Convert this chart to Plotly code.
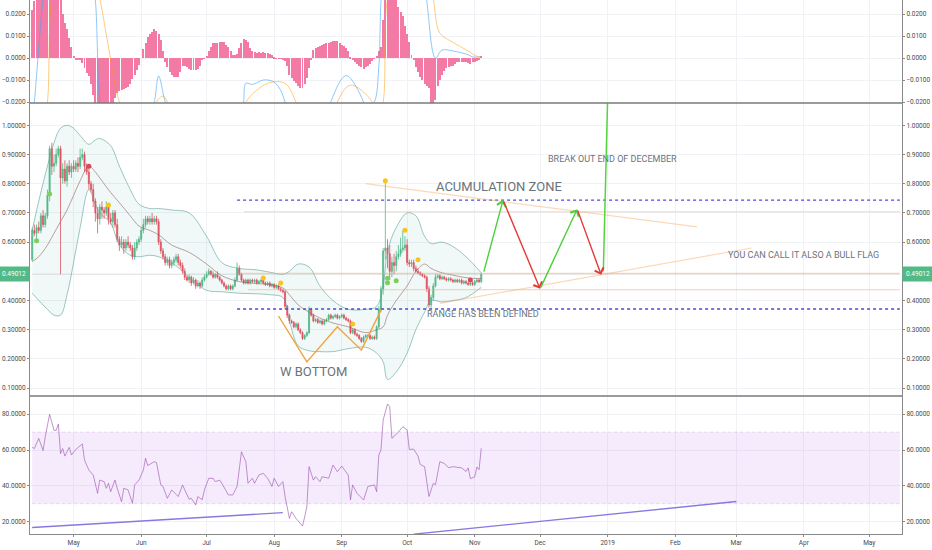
import pandas as pd
import plotly.graph_objects as go

# ---------------- data ----------------
start_date = "2018-04-12"
first_open = 0.54
closes = [
    0.64, 0.63, 0.65, 0.64, 0.69, 0.66, 0.69, 0.76, 0.92, 0.86,
    0.87, 0.90, 0.92, 0.82, 0.85, 0.81, 0.86, 0.84, 0.86, 0.85,
    0.87, 0.86, 0.89, 0.90, 0.86, 0.84, 0.80, 0.78, 0.74, 0.70,
    0.68, 0.72, 0.71, 0.70, 0.72, 0.68, 0.67, 0.70, 0.66, 0.61,
    0.59, 0.60, 0.58, 0.60, 0.59, 0.58, 0.55, 0.58, 0.60, 0.61,
    0.64, 0.66, 0.68, 0.67, 0.68, 0.67, 0.68, 0.67, 0.60, 0.57,
    0.55, 0.53, 0.54, 0.52, 0.53, 0.54, 0.55, 0.53, 0.52, 0.50,
    0.48, 0.47, 0.48, 0.46, 0.47, 0.45, 0.46, 0.45, 0.47, 0.48,
    0.49, 0.50, 0.49, 0.48, 0.49, 0.48, 0.47, 0.46, 0.45, 0.44,
    0.45, 0.44, 0.45, 0.47, 0.51, 0.49, 0.47, 0.46, 0.47, 0.46,
    0.47, 0.465, 0.47, 0.46, 0.465, 0.47, 0.46, 0.455, 0.46, 0.45,
    0.455, 0.445, 0.45, 0.44, 0.435, 0.43, 0.38, 0.35, 0.33, 0.325,
    0.31, 0.32, 0.30, 0.29, 0.27, 0.28, 0.29, 0.37, 0.35, 0.33,
    0.335, 0.325, 0.33, 0.32, 0.33, 0.335, 0.35, 0.34, 0.345, 0.35,
    0.34, 0.345, 0.35, 0.34, 0.335, 0.33, 0.29, 0.30, 0.285, 0.28,
    0.27, 0.26, 0.275, 0.28, 0.28, 0.27, 0.275, 0.27, 0.31, 0.37,
    0.44, 0.57, 0.58, 0.56, 0.50, 0.53, 0.52, 0.55, 0.56, 0.575,
    0.58, 0.59, 0.53, 0.525, 0.53, 0.51, 0.50, 0.495, 0.49, 0.485,
    0.48, 0.44, 0.385, 0.41, 0.45, 0.48, 0.485, 0.475, 0.48, 0.475,
    0.47, 0.475, 0.47, 0.465, 0.47, 0.465, 0.47, 0.46, 0.465, 0.46,
    0.455, 0.46, 0.455, 0.465, 0.47, 0.465, 0.49012,
]
hi_wick = [
    0.01, 0.02, 0.01, 0.02, 0.01, 0.02, 0.01, 0.02, 0.01, 0.02,
    0.03, 0.02, 0.01, 0.01, 0.02, 0.03, 0.01, 0.02, 0.01, 0.02,
    0.01, 0.02, 0.03, 0.02, 0.01, 0.01, 0.02, 0.01, 0.02, 0.01,
    0.02, 0.01, 0.02, 0.01, 0.02, 0.01, 0.02, 0.01, 0.01, 0.02,
    0.01, 0.02, 0.01, 0.01, 0.02, 0.01, 0.01, 0.02, 0.01, 0.01,
    0.01, 0.02, 0.01, 0.01, 0.01, 0.02, 0.01, 0.01, 0.01, 0.01,
    0.01, 0.01, 0.01, 0.01, 0.01, 0.01, 0.01, 0.01, 0.01, 0.01,
    0.01, 0.005, 0.01, 0.005, 0.01, 0.005, 0.01, 0.005, 0.01, 0.01,
    0.01, 0.01, 0.005, 0.01, 0.005, 0.01, 0.005, 0.005, 0.005, 0.005,
    0.005, 0.005, 0.005, 0.01, 0.02, 0.01, 0.005, 0.005, 0.005, 0.005,
    0.005, 0.005, 0.005, 0.005, 0.005, 0.005, 0.005, 0.005, 0.005, 0.005,
    0.005, 0.005, 0.005, 0.005, 0.005, 0.005, 0.005, 0.005, 0.005, 0.005,
    0.005, 0.005, 0.005, 0.005, 0.005, 0.005, 0.005, 0.01, 0.005, 0.005,
    0.005, 0.005, 0.005, 0.005, 0.005, 0.005, 0.005, 0.005, 0.005, 0.005,
    0.005, 0.005, 0.005, 0.005, 0.005, 0.005, 0.005, 0.005, 0.005, 0.005,
    0.005, 0.005, 0.005, 0.005, 0.005, 0.005, 0.005, 0.005, 0.005, 0.01,
    0.01, 0.01, 0.23, 0.03, 0.03, 0.02, 0.03, 0.02, 0.03, 0.04,
    0.06, 0.03, 0.02, 0.01, 0.01, 0.01, 0.01, 0.01, 0.005, 0.005,
    0.005, 0.005, 0.01, 0.01, 0.01, 0.01, 0.005, 0.005, 0.005, 0.005,
    0.005, 0.005, 0.005, 0.005, 0.005, 0.005, 0.005, 0.005, 0.005, 0.005,
    0.005, 0.005, 0.005, 0.005, 0.005, 0.005, 0.005,
]
lo_wick = [
    0.005, 0.01, 0.02, 0.01, 0.01, 0.01, 0.01, 0.01, 0.02, 0.03,
    0.02, 0.01, 0.01, 0.33, 0.02, 0.01, 0.02, 0.01, 0.02, 0.01,
    0.01, 0.02, 0.01, 0.01, 0.02, 0.01, 0.02, 0.01, 0.02, 0.03,
    0.05, 0.02, 0.03, 0.02, 0.01, 0.02, 0.01, 0.02, 0.01, 0.01,
    0.02, 0.01, 0.02, 0.01, 0.01, 0.01, 0.01, 0.01, 0.01, 0.01,
    0.01, 0.01, 0.01, 0.01, 0.01, 0.01, 0.01, 0.01, 0.01, 0.01,
    0.01, 0.01, 0.01, 0.01, 0.01, 0.01, 0.01, 0.01, 0.01, 0.01,
    0.01, 0.005, 0.01, 0.01, 0.005, 0.01, 0.005, 0.01, 0.005, 0.005,
    0.005, 0.005, 0.005, 0.005, 0.005, 0.005, 0.005, 0.005, 0.005, 0.005,
    0.005, 0.005, 0.005, 0.005, 0.005, 0.005, 0.005, 0.005, 0.005, 0.005,
    0.005, 0.005, 0.005, 0.005, 0.005, 0.005, 0.005, 0.005, 0.005, 0.005,
    0.005, 0.005, 0.005, 0.005, 0.005, 0.005, 0.01, 0.01, 0.01, 0.005,
    0.005, 0.005, 0.005, 0.005, 0.005, 0.005, 0.005, 0.005, 0.005, 0.005,
    0.005, 0.005, 0.005, 0.005, 0.005, 0.005, 0.005, 0.005, 0.005, 0.005,
    0.005, 0.005, 0.005, 0.005, 0.005, 0.005, 0.005, 0.005, 0.005, 0.005,
    0.005, 0.005, 0.005, 0.005, 0.005, 0.005, 0.005, 0.005, 0.005, 0.005,
    0.01, 0.02, 0.03, 0.05, 0.03, 0.02, 0.03, 0.02, 0.01, 0.01,
    0.01, 0.01, 0.01, 0.01, 0.01, 0.01, 0.005, 0.005, 0.005, 0.005,
    0.005, 0.01, 0.01, 0.01, 0.01, 0.005, 0.005, 0.005, 0.005, 0.005,
    0.005, 0.005, 0.005, 0.005, 0.005, 0.005, 0.005, 0.005, 0.005, 0.005,
    0.005, 0.005, 0.005, 0.005, 0.005, 0.005, 0.005,
]

# Bollinger bands
bb_dates = ["2018-04-12", "2018-04-15", "2018-04-19", "2018-04-22", "2018-04-25", "2018-04-28",
            "2018-05-01", "2018-05-04", "2018-05-08", "2018-05-11", "2018-05-13", "2018-05-18",
            "2018-05-22", "2018-05-27", "2018-05-31", "2018-06-05", "2018-06-09", "2018-06-15",
            "2018-06-23", "2018-07-01", "2018-07-08", "2018-07-16", "2018-07-24", "2018-07-30",
            "2018-08-05", "2018-08-08", "2018-08-12", "2018-08-17", "2018-08-22", "2018-08-28",
            "2018-09-04", "2018-09-12", "2018-09-17", "2018-09-20", "2018-09-22", "2018-09-26",
            "2018-10-01", "2018-10-05", "2018-10-09", "2018-10-12", "2018-10-17", "2018-10-22",
            "2018-10-28", "2018-11-04"]
bb_upper = [0.64, 0.74, 0.86, 0.94, 0.99, 1.00, 0.99, 0.965, 0.935, 0.95,
            0.955, 0.93, 0.86, 0.78, 0.73, 0.715, 0.715, 0.71, 0.70, 0.62,
            0.53, 0.51, 0.505, 0.497, 0.49, 0.50, 0.525, 0.515, 0.45, 0.40,
            0.37, 0.37, 0.38, 0.45, 0.57, 0.65, 0.70, 0.69, 0.62, 0.595,
            0.60, 0.585, 0.55, 0.495]
bb_mid = [0.533, 0.55, 0.59, 0.63, 0.67, 0.71, 0.76, 0.81, 0.86, 0.84,
          0.82, 0.77, 0.735, 0.69, 0.655, 0.64, 0.625, 0.59, 0.565, 0.525,
          0.485, 0.465, 0.458, 0.455, 0.443, 0.42, 0.385, 0.36, 0.34, 0.323,
          0.31, 0.29, 0.30, 0.31, 0.35, 0.40, 0.45, 0.50, 0.525, 0.51,
          0.495, 0.487, 0.478, 0.475]
bb_lower = [0.425, 0.40, 0.37, 0.35, 0.35, 0.42, 0.53, 0.65, 0.78, 0.73,
            0.70, 0.665, 0.59, 0.555, 0.55, 0.555, 0.55, 0.53, 0.48, 0.435,
            0.43, 0.425, 0.423, 0.42, 0.41, 0.33, 0.245, 0.228, 0.225, 0.225,
            0.235, 0.24, 0.22, 0.19, 0.13, 0.155, 0.22, 0.30, 0.36, 0.40,
            0.395, 0.40, 0.41, 0.445]

# MACD histogram (daily, aligned with candles)
macd_hist = [
    0.022, 0.026, 0.028, 0.031, 0.034, 0.036, 0.038, 0.039, 0.039, 0.038,
    0.036, 0.034, 0.031, 0.027, 0.020, 0.016, 0.013, 0.009, 0.005, 0.001,
    -0.0005, -0.0005, -0.0005, -0.0023, -0.0045, -0.007, -0.008, -0.012, -0.017, -0.022,
    -0.026, -0.028, -0.029, -0.029, -0.028, -0.027, -0.024, -0.021, -0.018, -0.016,
    -0.015, -0.0145, -0.014, -0.0135, -0.013, -0.012, -0.0095, -0.0075, -0.0055, -0.003,
    0.0, 0.004, 0.007, 0.0095, 0.011, 0.012, 0.013, 0.0125, 0.011, 0.008,
    0.003, -0.002, -0.004, -0.0065, -0.0078, -0.0086, -0.0088, -0.0086, -0.0065, -0.0035,
    -0.0038, -0.004, -0.005, -0.0053, -0.0055, -0.0053, -0.005, -0.0035, -0.001, -0.0003,
    0.001, 0.003, 0.005, 0.0068, 0.007, 0.007, 0.0071, 0.0072, 0.0072, 0.006,
    0.005, 0.003, 0.0015, 0.0015, 0.002, 0.0045, 0.0068, 0.0085, 0.008, 0.0072,
    0.0044, 0.003, 0.0027, 0.0025, 0.0027, 0.0025, 0.0028, 0.0025, 0.0025, 0.002,
    0.0015, 0.0005, -0.0002, -0.0003, -0.0003, -0.0005, -0.0015, -0.0035, -0.0077, -0.009,
    -0.0105, -0.0115, -0.0128, -0.0135, -0.0136, -0.012, -0.009, -0.0045, -0.0005, 0.0036,
    0.0045, 0.005, 0.0055, 0.006, 0.0063, 0.0066, 0.007, 0.0074, 0.0077, 0.0077,
    0.0076, 0.007, 0.006, 0.0055, 0.0045, 0.0032, 0.0005, -0.001, -0.0018, -0.0027,
    -0.0035, -0.0043, -0.005, -0.0042, -0.0035, -0.0025, -0.0014, -0.0003, 0.001, 0.003,
    0.005, 0.0173, 0.028, 0.034, 0.036, 0.035, 0.032, 0.028, 0.023, 0.021,
    0.019, 0.0145, 0.011, 0.0073, 0.0015, -0.001, -0.004, -0.0065, -0.0086, -0.0102,
    -0.0118, -0.0127, -0.0136, -0.021, -0.022, -0.019, -0.0125, -0.0098, -0.0075, -0.006,
    -0.0045, -0.004, -0.0037, -0.0035, -0.0025, -0.0018, -0.0017, -0.0018, -0.0018, -0.002,
    -0.0024, -0.0026, -0.002, -0.0017, -0.0015, -0.0008, 0.001,
]
# MACD line / signal (days after start, values; mostly off-scale)
macd_days = [0, 1, 5, 8, 15, 22, 27, 29, 31, 33, 54, 56, 58, 61, 63, 96, 97, 98, 101, 106,
             110, 113, 116, 117, 136, 137, 144, 152, 153, 157, 159, 160, 162, 170, 178, 181,
             185, 188, 193, 200, 202, 206]
macd_vals = [-0.03, -0.02, 0.027, 0.05, 0.06, 0.05, 0.04, 0.026, -0.02, -0.03, -0.025, -0.02,
             -0.0082, -0.02, -0.025, -0.025, -0.02, -0.0115, -0.012, -0.01, -0.0105, -0.013,
             -0.02, -0.025, -0.025, -0.02, -0.008, -0.02, -0.025, -0.02, -0.004, 0.026, 0.05,
             0.06, 0.05, 0.026, 0.0, 0.0036, 0.0032, 0.0015, 0.0005, 0.0005]
signal_days = [5, 7, 9, 15, 25, 31, 35, 40, 45, 55, 57, 60, 62, 65, 95, 98, 108, 116, 121, 125,
               138, 140, 146, 156, 158, 161, 163, 170, 180, 184, 187, 192, 200, 204, 206]
signal_vals = [-0.03, -0.02, 0.027, 0.05, 0.05, 0.027, 0.005, -0.02, -0.03, -0.03, -0.02,
               -0.0173, -0.02, -0.03, -0.03, -0.02, -0.0115, -0.0115, -0.02, -0.03, -0.03,
               -0.02, -0.0123, -0.02, -0.03, -0.02, 0.027, 0.05, 0.05, 0.027, 0.0113, 0.0077,
               0.0032, 0.0008, 0.0005]

# RSI (days after start, values)
rsi_days = [0, 1, 3, 5, 6, 8, 10, 11, 12, 13,
            14, 15, 17, 18, 20, 23, 24, 26, 28, 30,
            31, 33, 34, 35, 36, 38, 39, 41, 42, 44,
            46, 47, 49, 51, 52, 53, 56, 57, 59, 60,
            62, 64, 67, 69, 70, 72, 73, 75, 76, 78,
            79, 81, 83, 84, 86, 87, 90, 92, 94, 95,
            96, 98, 99, 101, 102, 104, 106, 108, 110, 111,
            113, 115, 116, 118, 119, 121, 124, 125, 126, 127,
            129, 130, 132, 133, 136, 138, 140, 142, 145, 146,
            147, 149, 152, 154, 157, 158, 159, 160, 161, 163,
            164, 165, 167, 168, 170, 172, 173, 175, 177, 178,
            180, 182, 184, 185, 187, 189, 191, 193, 197, 199,
            200, 201, 203, 204, 205, 206]
rsi_vals = [61.5, 60.8, 66.5, 59.7, 67.4, 80, 71, 71, 74.5, 58,
            60.8, 56.6, 61.5, 57.2, 60.3, 63.4, 54.4, 48.8, 46, 35.8,
            43.2, 42.3, 38.6, 41.4, 36.7, 43.2, 38.6, 31.1, 38.6, 37.7,
            30.2, 40.5, 43.2, 48.8, 55.4, 51.3, 53.5, 53, 40.5, 39.6,
            33, 37.7, 34, 40.5, 37.7, 32.5, 33, 29.3, 34, 32.2,
            37.7, 44.2, 44.2, 42.3, 43.2, 41.4, 34.9, 34.9, 39.6, 50.7,
            59, 53.5, 41.4, 44.2, 41.4, 46, 47, 44.2, 39.6, 44.2,
            39.6, 42.3, 34, 21.8, 25.5, 21.8, 17.5, 22.7, 28.4, 50.7,
            43.2, 45.1, 42.3, 45.1, 44.2, 51.6, 47.9, 51, 46, 32.1,
            40.5, 35.8, 32.1, 39.6, 40.5, 36.7, 57.2, 60, 76.8, 85.7,
            84.3, 66.5, 68.8, 70, 73, 71.2, 60.3, 60.5, 56.6, 51.9,
            50.7, 34, 41.4, 40.5, 53.5, 52.5, 50.1, 50.7, 50, 48,
            50, 44, 45, 50.5, 49, 61]

# indicator dots on price panel
green_dot_dates = ["2018-04-14", "2018-04-20", "2018-09-22", "2018-09-22", "2018-09-26"]
green_dot_vals = [0.605, 0.765, 0.476, 0.461, 0.468]
yellow_dot_dates = ["2018-05-17", "2018-07-27", "2018-08-04", "2018-09-06", "2018-09-21",
                    "2018-09-30", "2018-10-06"]
yellow_dot_vals = [0.727, 0.477, 0.46, 0.32, 0.81, 0.641, 0.54]
red_dot_dates = ["2018-05-08", "2018-10-30"]
red_dot_vals = [0.86, 0.47]

# drawings
last_price = 0.49012
range_top = 0.744
range_bottom = 0.371
hlines_orange = [("2018-07-18", 0.704), ("2018-07-16", 0.493), ("2018-07-20", 0.437)]
resist_line_dates = ["2018-09-12", "2019-02-11"]
resist_line_vals = [0.80, 0.652]
flag_line_dates = ["2018-10-16", "2019-03-08"]
flag_line_vals = [0.39, 0.58]
w_dates = ["2018-08-03", "2018-08-16", "2018-08-30", "2018-09-10", "2018-09-19"]
w_vals = [0.347, 0.19, 0.31, 0.23, 0.367]
path_dates = ["2018-11-05", "2018-11-14", "2018-12-01", "2018-12-18", "2018-12-29"]
path_vals = [0.494, 0.744, 0.44, 0.713, 0.488]
breakout_dates = ["2018-12-30", "2019-01-01"]
breakout_vals = [0.50, 1.10]
rsi_trend1_dates = ["2018-04-12", "2018-08-05"]
rsi_trend1_vals = [16.7, 25.0]
rsi_trend2_dates = ["2018-10-04", "2019-03-01"]
rsi_trend2_vals = [13.0, 31.2]

texts = [
    ("ACUMULATION ZONE", "2018-11-12", 0.790, 13),
    ("BREAK OUT END OF DECEMBER", "2019-01-03", 0.885, 9),
    ("YOU CAN CALL IT ALSO A BULL FLAG", "2019-04-01", 0.555, 9),
    ("RANGE HAS BEEN DEFINED", "2018-11-05", 0.354, 9),
    ("W BOTTOM", "2018-08-19", 0.156, 13),
]

month_ticks = ["2018-05-01", "2018-06-01", "2018-07-01", "2018-08-01", "2018-09-01",
               "2018-10-01", "2018-11-01", "2018-12-01", "2019-01-01", "2019-02-01",
               "2019-03-01", "2019-04-01", "2019-05-01"]
month_labels = ["May", "Jun", "Jul", "Aug", "Sep", "Oct", "Nov", "Dec", "2019", "Feb",
                "Mar", "Apr", "May"]
price_ticks = [0.1, 0.2, 0.3, 0.4, 0.6, 0.7, 0.8, 0.9, 1.0]
macd_ticks = [-0.02, -0.01, 0.0, 0.01, 0.02]
rsi_ticks = [20, 40, 60, 80]

# ---------------- styling ----------------
UP = "#53b987"
DN = "#eb4d5c"
GRID = "#f0f2f6"
AXIS = "#8a8a8a"
TXT = "#6b737c"
X_RANGE = ["2018-04-11", "2019-05-16"]
X_END = "2019-05-15"
RSI_DOM = [0.0, 0.2584]
PRICE_DOM = [0.2584, 0.8071]
MACD_DOM = [0.8071, 1.0]
RSI_RANGE = [13.07, 90.17]
PRICE_RANGE = [0.0730, 1.0764]
MACD_RANGE = [-0.02045, 0.02636]

start = pd.Timestamp(start_date)
dates = pd.date_range(start_date, periods=len(closes), freq="D")
opens = [first_open] + closes[:-1]
highs = [max(o, c) + w for o, c, w in zip(opens, closes, hi_wick)]
lows = [min(o, c) - w for o, c, w in zip(opens, closes, lo_wick)]


def day_dates(days):
    return [start + pd.Timedelta(days=d) for d in days]


fig = go.Figure()

# ---- MACD panel ----
fig.add_trace(go.Bar(x=dates[:len(macd_hist)], y=macd_hist, yaxis="y3", xaxis="x",
                     marker=dict(color="#f27aa5", line=dict(width=0)),
                     width=0.45 * 86400000, hoverinfo="skip"))
fig.add_trace(go.Scatter(x=day_dates(macd_days), y=macd_vals, yaxis="y3", mode="lines",
                         line=dict(color="rgba(66,165,245,0.6)", width=1, shape="spline"),
                         hoverinfo="skip"))
fig.add_trace(go.Scatter(x=day_dates(signal_days), y=signal_vals, yaxis="y3", mode="lines",
                         line=dict(color="rgba(255,152,0,0.5)", width=1, shape="spline"),
                         hoverinfo="skip"))

# ---- price panel ----
fig.add_trace(go.Scatter(x=bb_dates, y=bb_upper, yaxis="y2", mode="lines",
                         line=dict(color="rgba(90,160,150,0.75)", width=0.8, shape="spline"),
                         hoverinfo="skip"))
fig.add_trace(go.Scatter(x=bb_dates, y=bb_lower, yaxis="y2", mode="lines", fill="tonexty",
                         fillcolor="rgba(38,166,154,0.07)",
                         line=dict(color="rgba(90,160,150,0.75)", width=0.8, shape="spline"),
                         hoverinfo="skip"))
fig.add_trace(go.Scatter(x=bb_dates, y=bb_mid, yaxis="y2", mode="lines",
                         line=dict(color="rgba(150,95,95,0.75)", width=0.8, shape="spline"),
                         hoverinfo="skip"))

# horizontal drawing lines
fig.add_trace(go.Scatter(x=[dates[0], X_END], y=[last_price, last_price], yaxis="y2",
                         mode="lines", line=dict(color="rgba(160,160,160,0.35)", width=1),
                         hoverinfo="skip"))
for d0, v in hlines_orange:
    fig.add_trace(go.Scatter(x=[d0, X_END], y=[v, v], yaxis="y2", mode="lines",
                             line=dict(color="rgba(245,170,100,0.45)", width=1.2),
                             hoverinfo="skip"))
for v in (range_top, range_bottom):
    fig.add_trace(go.Scatter(x=["2018-07-15", X_END], y=[v, v], yaxis="y2", mode="lines",
                             line=dict(color="#4a4ad0", width=1.3, dash="dot"),
                             hoverinfo="skip"))
fig.add_trace(go.Scatter(x=resist_line_dates, y=resist_line_vals, yaxis="y2", mode="lines",
                         line=dict(color="rgba(245,170,100,0.45)", width=1.2), hoverinfo="skip"))
fig.add_trace(go.Scatter(x=flag_line_dates, y=flag_line_vals, yaxis="y2", mode="lines",
                         line=dict(color="rgba(245,170,100,0.45)", width=1.2), hoverinfo="skip"))

# candles
fig.add_trace(go.Candlestick(x=dates, open=opens, high=highs, low=lows, close=closes,
                             yaxis="y2", xaxis="x", whiskerwidth=0,
                             increasing=dict(line=dict(color=UP, width=0.8), fillcolor=UP),
                             decreasing=dict(line=dict(color=DN, width=0.8), fillcolor=DN),
                             hoverinfo="skip"))

# W bottom
fig.add_trace(go.Scatter(x=w_dates, y=w_vals, yaxis="y2", mode="lines",
                         line=dict(color="#f2a23a", width=1.4), hoverinfo="skip"))
# breakout line
fig.add_trace(go.Scatter(x=breakout_dates, y=breakout_vals, yaxis="y2", mode="lines",
                         line=dict(color="#55d43f", width=1.5), hoverinfo="skip"))

# dots
fig.add_trace(go.Scatter(x=green_dot_dates, y=green_dot_vals, yaxis="y2", mode="markers",
                         marker=dict(color="#7ccf5a", size=5), hoverinfo="skip"))
fig.add_trace(go.Scatter(x=yellow_dot_dates, y=yellow_dot_vals, yaxis="y2", mode="markers",
                         marker=dict(color="#f7c51e", size=5), hoverinfo="skip"))
fig.add_trace(go.Scatter(x=red_dot_dates, y=red_dot_vals, yaxis="y2", mode="markers",
                         marker=dict(color="#d9475a", size=5), hoverinfo="skip"))

# ---- RSI panel ----
fig.add_trace(go.Scatter(x=[dates[0], X_END], y=[70, 70], yaxis="y", mode="lines",
                         line=dict(color="rgba(180,120,210,0.25)", width=1, dash="dot"),
                         hoverinfo="skip"))
fig.add_trace(go.Scatter(x=[dates[0], X_END], y=[30, 30], yaxis="y", mode="lines",
                         fill="tonexty", fillcolor="rgba(186,104,230,0.13)",
                         line=dict(color="rgba(180,120,210,0.25)", width=1, dash="dot"),
                         hoverinfo="skip"))
fig.add_trace(go.Scatter(x=day_dates(rsi_days), y=rsi_vals, yaxis="y", mode="lines",
                         line=dict(color="rgba(150,80,170,0.6)", width=1), hoverinfo="skip"))
fig.add_trace(go.Scatter(x=rsi_trend1_dates, y=rsi_trend1_vals, yaxis="y", mode="lines",
                         line=dict(color="#8878e0", width=1.4), hoverinfo="skip"))
fig.add_trace(go.Scatter(x=rsi_trend2_dates, y=rsi_trend2_vals, yaxis="y", mode="lines",
                         line=dict(color="#8878e0", width=1.4), hoverinfo="skip"))

# dummy traces for right-hand axes
for ax, val in (("y4", 50), ("y5", 0.5), ("y6", 0.0)):
    fig.add_trace(go.Scatter(x=[dates[0]], y=[val], yaxis=ax, mode="markers",
                             marker=dict(opacity=0), hoverinfo="skip"))

# ---- annotations ----
annotations = []
cols = ["#4ccf3a", "#e53935", "#4ccf3a", "#e53935"]
for i in range(len(path_dates) - 1):
    annotations.append(dict(x=path_dates[i + 1], y=path_vals[i + 1], ax=path_dates[i],
                            ay=path_vals[i], xref="x", yref="y2", axref="x", ayref="y2",
                            showarrow=True, arrowhead=4, arrowsize=1.3, arrowwidth=1.4,
                            arrowcolor=cols[i], text="", standoff=0))
for t, d, v, s in texts:
    annotations.append(dict(x=d, y=v, xref="x", yref="y2", text=t, showarrow=False,
                            xanchor="center", yanchor="middle",
                            font=dict(family="Roboto", size=s, color=TXT)))
for xp, xa in ((0, "right"), (1, "left")):
    annotations.append(dict(x=xp, y=last_price, xref="paper", yref="y2",
                            text="%.5f" % last_price, showarrow=False, xanchor=xa,
                            yanchor="middle", bgcolor=UP, borderpad=3,
                            font=dict(family="Roboto", size=6.5, color="white")))

tick_font = dict(family="Roboto", size=6.5, color="#4a4a4a")


def yax(dom, rng, ticks, fmt, side="left", overlay=None):
    d = dict(range=rng, tickvals=ticks, tickformat=fmt, showgrid=(overlay is None),
             gridcolor=GRID, zeroline=False, showline=True, linecolor=AXIS, linewidth=1.2,
             ticks="outside", ticklen=2, tickcolor=AXIS, tickfont=tick_font,
             fixedrange=True, side=side, anchor="x", automargin=False)
    if overlay:
        d["overlaying"] = overlay
    else:
        d["domain"] = dom
    return d


fig.update_layout(
    width=932, height=550,
    margin=dict(l=30, r=30, t=0, b=16, autoexpand=False),
    paper_bgcolor="white", plot_bgcolor="white",
    showlegend=False, hovermode=False, bargap=0,
    xaxis=dict(range=X_RANGE, tickvals=month_ticks, ticktext=month_labels,
               showgrid=True, gridcolor=GRID, showline=True, linecolor=AXIS, linewidth=1.2,
               ticks="outside", ticklen=2, tickcolor=AXIS, tickfont=tick_font,
               rangeslider=dict(visible=False), anchor="y", fixedrange=True, zeroline=False,
               automargin=False),
    yaxis=yax(RSI_DOM, RSI_RANGE, rsi_ticks, ".4f"),
    yaxis2=yax(PRICE_DOM, PRICE_RANGE, price_ticks, ".5f"),
    yaxis3=yax(MACD_DOM, MACD_RANGE, macd_ticks, ".4f"),
    yaxis4=yax(None, RSI_RANGE, rsi_ticks, ".4f", side="right", overlay="y"),
    yaxis5=yax(None, PRICE_RANGE, price_ticks, ".5f", side="right", overlay="y2"),
    yaxis6=yax(None, MACD_RANGE, macd_ticks, ".4f", side="right", overlay="y3"),
    annotations=annotations,
    shapes=[
        dict(type="line", xref="paper", yref="paper", x0=0, x1=1, y0=MACD_DOM[0],
             y1=MACD_DOM[0], line=dict(color="#7a7a7a", width=1.5)),
        dict(type="line", xref="paper", yref="paper", x0=0, x1=1, y0=PRICE_DOM[0],
             y1=PRICE_DOM[0], line=dict(color="#7a7a7a", width=1.5)),
    ],
)

fig.write_html("out.html", config={"displayModeBar": False},
               post_script="document.body.style.margin='0px';"
                           "document.body.style.overflow='hidden';")
